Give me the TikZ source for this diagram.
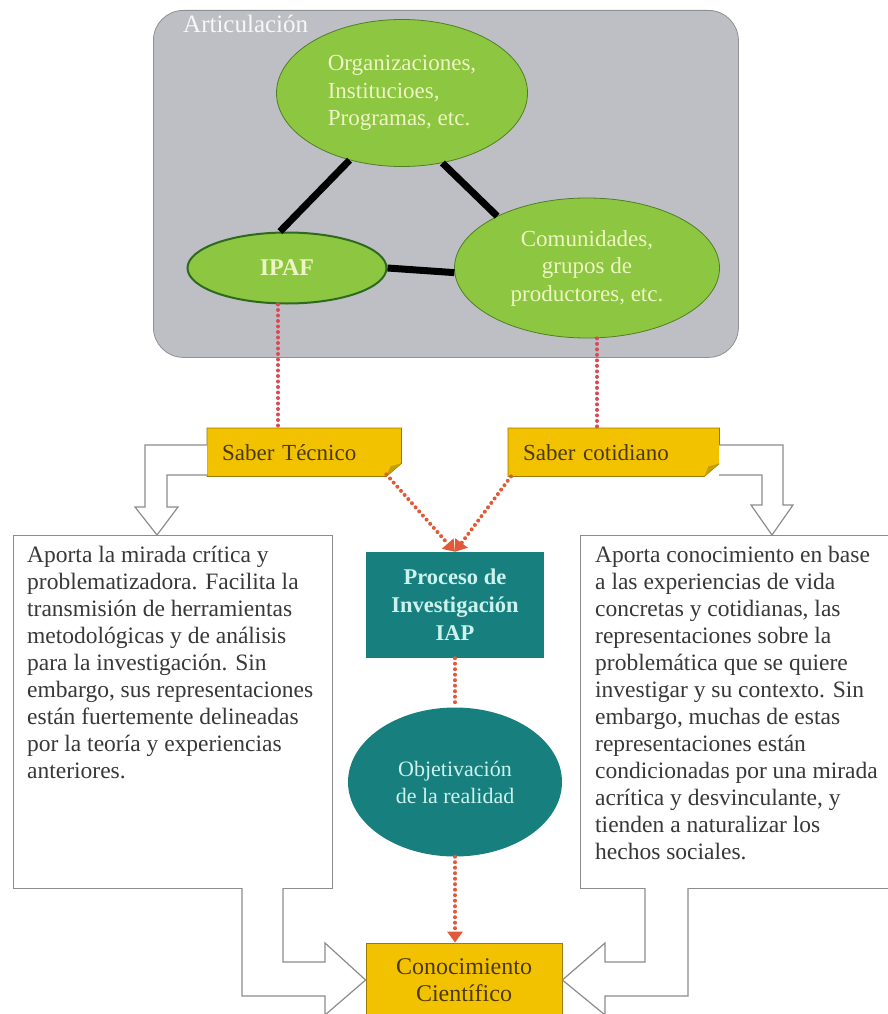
\documentclass[tikz,border=0pt]{standalone}
\usepackage{fontspec}
\setmainfont{Liberation Serif}
\usetikzlibrary{arrows.meta,shapes.geometric,backgrounds,calc}
\definecolor{grayb}{HTML}{BEBFC4}
\definecolor{grayline}{HTML}{8F9094}
\definecolor{leaf}{HTML}{8DC640}
\definecolor{leafdark}{HTML}{4F7F24}
\definecolor{leafdeep}{HTML}{2D6A1F}
\definecolor{leaftext}{HTML}{EEF5C4}
\definecolor{yel}{HTML}{F2C200}
\definecolor{yeldark}{HTML}{9A7A00}
\definecolor{yelfold}{HTML}{C79E00}
\definecolor{yeltext}{HTML}{4B3A06}
\definecolor{tealc}{HTML}{17807F}
\definecolor{tealtext}{HTML}{CCF2ED}
\definecolor{reddot}{HTML}{D84A55}
\definecolor{orangedot}{HTML}{E05A3A}
\definecolor{boxline}{HTML}{8C8C8C}
\definecolor{bodytext}{HTML}{383838}
\newcommand\notebg[1]{%
  \fill[yel] (#1.north west) -- (#1.north east) -- ([yshift=13pt]#1.south east)
     -- ([xshift=-15pt]#1.south east) -- (#1.south west) -- cycle;
  \draw[yeldark,line width=0.8pt] (#1.north west) -- (#1.north east) -- ([yshift=13pt]#1.south east)
     -- ([xshift=-15pt]#1.south east) -- (#1.south west) -- cycle;
  \fill[yelfold] ([xshift=-15pt]#1.south east) -- ([yshift=13pt]#1.south east)
     -- ([xshift=-11pt,yshift=10pt]#1.south east) -- cycle;}
\begin{document}
\begin{tikzpicture}[x=1pt,y=-1pt,
  grn/.style={ellipse, fill=leaf, draw=leafdark, line width=0.8pt, inner sep=0pt,
     text=leaftext, font=\fontsize{23}{27.5}\selectfont},
  link/.style={line width=7pt, black},
  dots/.style={line width=4pt, dash pattern=on 0pt off 5.5pt, line cap=round, color=reddot},
  arr/.style={dots, color=orangedot, -{Triangle[width=15pt,length=11pt]}},
  notetext/.style={anchor=north west, minimum height=48pt, inner xsep=15pt, inner ysep=0pt,
     align=left, text=yeltext, font=\fontsize{23}{27}\selectfont},
  tbox/.style={draw=boxline, line width=1.2pt, fill=white, anchor=north west, inner sep=0pt},
  btext/.style={anchor=north west, inner sep=0pt, align=left, text=bodytext,
     font=\fontsize{23.5}{27}\selectfont},
  hollow/.style={draw=boxline, line width=1.2pt, fill=white, line join=miter},
  tealbox/.style={fill=tealc, text=tealtext, inner sep=0pt, align=center}]
\useasboundingbox (0,0) rectangle (887,1014);

% Articulación container
\node[draw=grayline, fill=grayb, line width=0.8pt, rounded corners=30pt, anchor=north west,
      minimum width=585, minimum height=347, inner sep=0pt] (artic) at (153,10) {};
\node[anchor=west, inner sep=0pt, text=white!94!gray, font=\fontsize{25}{28}\selectfont]
      (articlabel) at (183,24) {Articulación};

% green ellipses
\node[grn, minimum width=251, minimum height=147, align=left] (org) at (402,93)
      {Organizaciones,\\Institucioes,\\Programas, etc.};
\node[grn, draw=leafdeep, line width=2pt, minimum width=199, minimum height=71,
      font=\fontsize{24}{27}\bfseries] (ipaf) at (287,268) {IPAF};
\node[grn, minimum width=265, minimum height=140, align=center] (com) at (587,268)
      {Comunidades,\\grupos de\\productores, etc.};

\draw[link] (org.232) -- (ipaf.101);
\draw[link] (org.300) -- (com.150);
\draw[link] (ipaf.east) -- (com.182);

% knowledge notes
\node[notetext, minimum width=194, text width=164] (st) at (207,428) {Saber Técnico};
\node[notetext, minimum width=211, text width=181] (sc) at (508,428) {Saber cotidiano};
\begin{scope}[on background layer]
  \notebg{st}
  \notebg{sc}
\end{scope}

\coordinate (d1) at (278,0);
\coordinate (d2) at (597,0);
\draw[dots] (ipaf.south -| d1) -- (st.north -| d1);
\draw[dots] (com.south -| d2) -- (sc.north -| d2);

% top bent arrows
\draw[hollow] (207,445) -- (145,445) -- (145,507) -- (135,507) -- (157,535) -- (178,507)
   -- (167,507) -- (167,475) -- (207,475);
\draw[hollow] (719,445) -- (783,445) -- (783,505) -- (793,505) -- (772,535) -- (751,505)
   -- (762,505) -- (762,475) -- (719,475);

% text boxes
\node[tbox, minimum width=319, minimum height=353] (lbox) at (13,535) {};
\node[btext] (ltext) at (27,546) {Aporta la mirada crítica y\\
problematizadora. Facilita la\\
transmisión de herramientas\\
metodológicas y de análisis\\
para la investigación. Sin\\
embargo, sus representaciones\\
están fuertemente delineadas\\
por la teoría y experiencias\\
anteriores.};
\node[tbox, minimum width=312, minimum height=353] (rbox) at (580,535) {};
\node[btext] (rtext) at (595,546) {Aporta conocimiento en base\\
a las experiencias de vida\\
concretas y cotidianas, las\\
representaciones sobre la\\
problemática que se quiere\\
investigar y su contexto. Sin\\
embargo, muchas de estas\\
representaciones están\\
condicionadas por una mirada\\
acrítica y desvinculante, y\\
tienden a naturalizar los\\
hechos sociales.};

% central column
\node[tealbox, minimum width=178, minimum height=106, font=\fontsize{22.5}{28}\bfseries]
      (proc) at (455,605) {Proceso de\\Investigación\\IAP};
\node[tealbox, ellipse, minimum width=214, minimum height=149, font=\fontsize{22}{27}\selectfont]
      (obj) at (455,782) {Objetivación\\de la realidad};
\node[fill=yel, draw=yeldark, line width=0.8pt, minimum width=196, minimum height=74,
      inner sep=0pt, align=center, text=yeltext, font=\fontsize{24}{27}\selectfont]
      (con) at (464,980) {Conocimiento\\Científico};

\draw[arr] ([xshift=-15pt,yshift=2pt]st.south east) -- (proc.north);
\draw[arr] ([xshift=3pt]sc.south west) -- (proc.north);
\draw[dots, color=orangedot] (proc.south) -- (obj.north);
\draw[arr] (obj.south) -- (obj.south |- con.north);

% bottom bent arrows
\draw[hollow] (242,888) -- (242,996) -- (325,996) -- (325,1015) -- (con.west) -- (325,943)
   -- (325,962) -- (283,962) -- (283,888);
\draw[hollow] (688,888) -- (688,996) -- (605,996) -- (605,1015) -- (con.east) -- (605,943)
   -- (605,962) -- (645,962) -- (645,888);
\end{tikzpicture}
\end{document}
